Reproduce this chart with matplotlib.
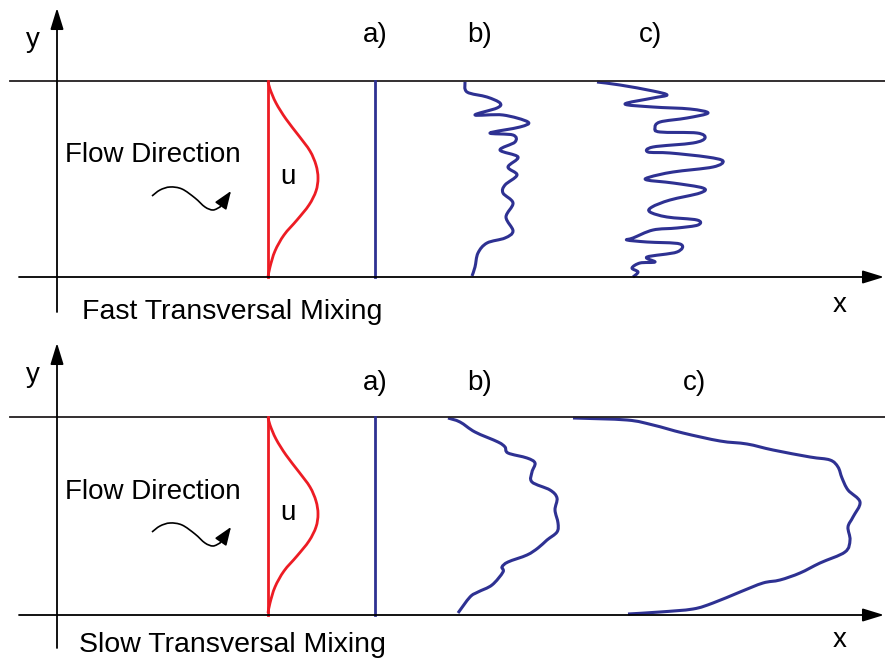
import numpy as np
import matplotlib
matplotlib.use("Agg")
import matplotlib.pyplot as plt
from matplotlib.path import Path
from matplotlib.patches import PathPatch

plt.rcParams['font.family'] = ['Liberation Sans', 'DejaVu Sans']

BLUE = "#2e3192"
RED = "#ed1c24"

# panel geometry (pixel space, y downwards)
wall_top = [81, 417]
wall_bot = [277, 615]
panel_titles = ["Fast Transversal Mixing", "Slow Transversal Mixing"]

# velocity profile u, (x, depth below top wall)
u_x = [268, 270, 276, 286, 299, 310, 316, 318, 316, 309, 297, 284, 275, 270, 268]
u_dy = [0, 8, 22, 38, 55, 70, 84, 97, 110, 124, 139, 154, 170, 186, 196]

# flow direction squiggle (x, depth below top wall)
sq_x = [152, 160, 170, 182, 195, 205, 213, 220]
sq_dy = [115, 109, 106, 108, 117, 126, 129, 126]

# concentration fronts
fast_b = [(465, 82), (467, 92), (487, 97), (500, 103), (497, 108), (475, 115), (503, 115),
          (528, 122), (520, 127), (490, 133), (513, 135), (515, 142), (500, 150), (518, 157),
          (508, 167), (517, 175), (505, 185), (503, 193), (513, 203), (506, 217), (513, 231),
          (505, 238), (487, 243), (478, 253), (475, 267), (472, 276)]
fast_c = [(597, 82), (620, 85), (653, 91), (667, 95), (653, 98), (625, 104), (653, 107),
          (690, 109), (708, 113), (687, 118), (660, 122), (655, 128), (660, 132), (697, 133),
          (705, 138), (693, 143), (653, 147), (648, 152), (670, 153), (707, 157), (723, 161),
          (713, 167), (673, 172), (650, 177), (647, 180), (673, 183), (703, 188), (700, 193),
          (670, 200), (652, 207), (650, 212), (667, 217), (697, 220), (698, 225), (677, 228),
          (653, 230), (633, 238), (627, 240), (647, 242), (680, 244), (677, 252), (647, 257),
          (655, 262), (640, 263), (632, 268), (638, 272), (633, 277)]
slow_b = [(448, 418), (460, 422), (475, 432), (498, 442), (505, 447), (508, 453), (527, 458),
          (535, 463), (532, 472), (532, 482), (550, 490), (557, 498), (555, 510), (558, 523),
          (557, 532), (547, 540), (538, 548), (527, 555), (508, 562), (502, 567), (503, 572),
          (492, 585), (478, 592), (470, 597), (458, 613)]
slow_c = [(573, 418), (627, 420), (653, 425), (683, 433), (720, 441), (747, 444), (773, 450),
          (810, 457), (830, 460), (838, 467), (842, 478), (848, 490), (860, 502), (853, 517),
          (848, 527), (850, 540), (845, 552), (820, 563), (800, 573), (780, 580), (763, 583),
          (740, 592), (713, 603), (693, 609), (660, 612), (628, 614)]
fronts = [(fast_b, fast_c), (slow_b, slow_c)]


def smooth_path(pts):
    # Catmull-Rom through the points, drawn as cubic bezier segments
    p = np.asarray(pts, dtype=float)
    p = np.vstack([p[0], p, p[-1]])
    verts = [p[1]]
    codes = [Path.MOVETO]
    for i in range(1, len(p) - 2):
        c1 = p[i] + (p[i + 1] - p[i - 1]) / 6
        c2 = p[i + 1] - (p[i + 2] - p[i]) / 6
        verts += [c1, c2, p[i + 1]]
        codes += [Path.CURVE4] * 3
    return Path(verts, codes)


def draw_curve(ax, pts, color, lw):
    ax.add_patch(PathPatch(smooth_path(pts), fill=False, edgecolor=color, lw=lw,
                           capstyle="butt", joinstyle="round"))


fig = plt.figure(figsize=(8.85, 6.62), dpi=100)
ax = fig.add_axes([0, 0, 1, 1])
ax.set_xlim(0, 885)
ax.set_ylim(662, 0)
ax.axis("off")

arrow = dict(arrowstyle="-|>,head_length=1.3,head_width=0.4", color="black", lw=1.3,
             shrinkA=0, shrinkB=0)

yaxis_span = [(312, 8), (648, 343)]
label_y = [35, 383]
bc_x = [(480, 650), (480, 695)]
flow_y = [155, 492]
x_lab_y = [305, 640]
title_y = [312, 645]
u_y = [177, 513]
FS = 20

for k in range(2):
    top, bot = wall_top[k], wall_bot[k]
    # channel walls
    ax.plot([10, 885], [top, top], color="#231f20", lw=1.3)
    ax.annotate("", xy=(884, bot), xytext=(19, bot), arrowprops=arrow,
                annotation_clip=False)
    # y axis
    ax.annotate("", xy=(57, yaxis_span[k][1]), xytext=(57, yaxis_span[k][0]),
                arrowprops=arrow, annotation_clip=False)
    ax.text(33, yaxis_span[k][1] + 32, "y", fontsize=FS, ha="center", va="center")
    ax.text(840, x_lab_y[k], "x", fontsize=FS, ha="center", va="center")

    # velocity profile
    draw_curve(ax, list(zip(u_x, [top + d for d in u_dy])), RED, 2.0)
    ax.plot([268, 268], [top, bot], color=RED, lw=2.0)
    ax.text(288, u_y[k], "u", fontsize=FS, ha="center", va="center")

    # flow direction squiggle
    sq = list(zip(sq_x, [top + d for d in sq_dy]))
    draw_curve(ax, sq, "black", 1.2)
    ax.annotate("", xy=(231, top + 110), xytext=sq[-1],
                arrowprops=dict(arrowstyle="-|>,head_length=1.1,head_width=0.42",
                                color="black", lw=1.2, shrinkA=0, shrinkB=0))
    ax.text(65, flow_y[k], "Flow Direction", fontsize=FS, ha="left", va="center")

    # fronts a), b), c)
    ax.plot([375, 375], [top, bot], color=BLUE, lw=2.0)
    draw_curve(ax, fronts[k][0], BLUE, 2.2)
    draw_curve(ax, fronts[k][1], BLUE, 2.2)
    ax.text(375, label_y[k], "a)", fontsize=FS, ha="center", va="center")
    ax.text(bc_x[k][0], label_y[k], "b)", fontsize=FS, ha="center", va="center")
    ax.text(bc_x[k][1], label_y[k], "c)", fontsize=FS, ha="center", va="center")

    ax.text(232, title_y[k], panel_titles[k], fontsize=20.5, ha="center", va="center")

fig.savefig("out.png", dpi=100)
